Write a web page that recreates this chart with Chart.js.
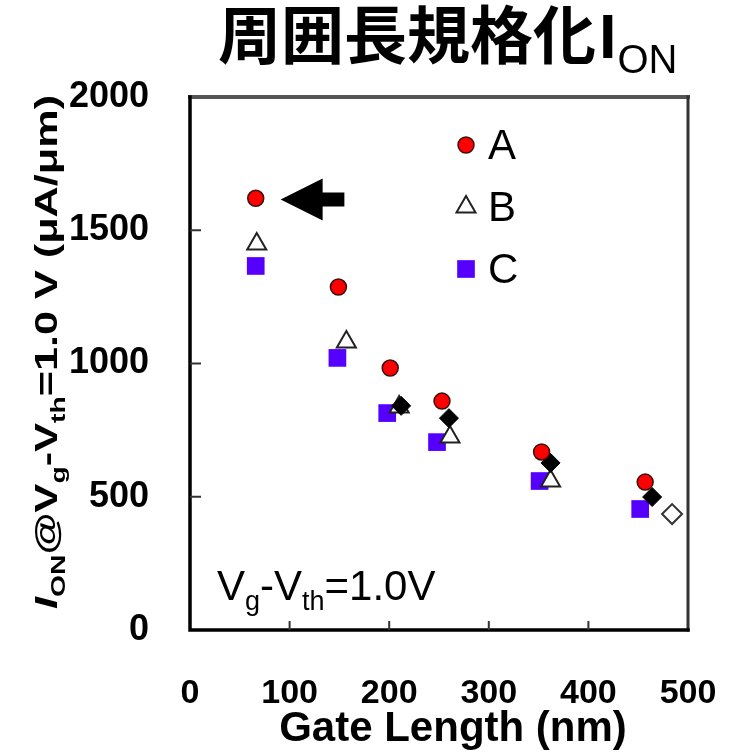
<!DOCTYPE html>
<html>
<head>
<meta charset="utf-8">
<script src="https://cdn.jsdelivr.net/npm/chart.js@4.4.0/dist/chart.umd.min.js"></script>
<style>
  html, body { margin: 0; padding: 0; background: #fff; }
  #wrap { width: 733px; height: 753px; }
</style>
</head>
<body>
<div id="wrap"><canvas id="chart" width="733" height="753"></canvas></div>
<script>
// gate length (nm) / I_ON (uA/um)
const gateLengthA = [66, 149, 201, 253, 353, 457];
const ionA = [1620, 1287, 983, 859, 668, 555];
const gateLengthB = [67, 157, 210, 261, 362];
const ionB = [1448, 1081, 837, 724, 559];
const gateLengthC = [66, 148, 198, 248, 351, 452];
const ionC = [1366, 1021, 814, 705, 559, 454];
const gateLengthRef = [212, 260, 362, 464];
const ionRef = [841, 795, 627, 499];
const gateLengthRefOpen = [484];
const ionRefOpen = [435];

const xTicks = [0, 100, 200, 300, 400, 500];
const yTicks = [0, 500, 1000, 1500, 2000];
const legendNames = ["A", "B", "C"];

// arrow pointing at the first A point (data coords)
const arrowTail = [155, 1615];
const arrowTip = [91, 1615];

const FONT = '"Liberation Sans", Arial, sans-serif';
const CJK = '"Noto Sans CJK JP", "Noto Sans CJK SC", sans-serif';

function toPoints(xs, ys) {
  return xs.map((x, i) => ({ x: x, y: ys[i] }));
}

// draws a run of text pieces, some of them subscripts
function drawRuns(ctx, runs, x, y) {
  runs.forEach(r => {
    ctx.font = r.font;
    x += r.gap || 0;
    ctx.fillText(r.text, x, y + (r.dy || 0));
    x += ctx.measureText(r.text).width;
  });
  return x;
}

function runsWidth(ctx, runs) {
  let w = 0;
  runs.forEach(r => {
    ctx.font = r.font;
    w += ctx.measureText(r.text).width + (r.gap || 0);
  });
  return w;
}

const decorPlugin = {
  id: "decor",
  beforeDraw(chart) {
    const ctx = chart.ctx;
    ctx.save();
    ctx.fillStyle = "#fff";
    ctx.fillRect(0, 0, chart.width, chart.height);
    ctx.restore();
  },
  afterDraw(chart) {
    const ctx = chart.ctx;
    const area = chart.chartArea;
    const xs = chart.scales.x;
    const ys = chart.scales.y;

    ctx.save();

    // frame
    ctx.lineCap = "square";
    ctx.strokeStyle = "#555";
    ctx.lineWidth = 4;
    ctx.beginPath();
    ctx.moveTo(area.left, area.top);
    ctx.lineTo(area.right, area.top);
    ctx.stroke();
    ctx.strokeStyle = "#333";
    ctx.lineWidth = 3;
    ctx.beginPath();
    ctx.moveTo(area.right, area.top);
    ctx.lineTo(area.right, area.bottom);
    ctx.stroke();
    ctx.strokeStyle = "#000";
    ctx.lineWidth = 3.5;
    ctx.beginPath();
    ctx.moveTo(area.left, area.top);
    ctx.lineTo(area.left, area.bottom);
    ctx.lineTo(area.right, area.bottom);
    ctx.stroke();

    // inward ticks
    ctx.strokeStyle = "#333";
    ctx.lineWidth = 2;
    ctx.lineCap = "butt";
    yTicks.slice(1, -1).forEach(v => {
      const py = ys.getPixelForValue(v);
      ctx.beginPath();
      ctx.moveTo(area.left, py);
      ctx.lineTo(area.left + 11, py);
      ctx.stroke();
    });
    xTicks.slice(1, -1).forEach(v => {
      const px = xs.getPixelForValue(v);
      ctx.beginPath();
      ctx.moveTo(px, area.bottom);
      ctx.lineTo(px, area.bottom - 9);
      ctx.stroke();
    });

    // arrow
    const tipX = xs.getPixelForValue(arrowTip[0]);
    const tailX = xs.getPixelForValue(arrowTail[0]);
    const ay = ys.getPixelForValue(arrowTip[1]);
    const headX = tipX + 42;
    ctx.fillStyle = "#000";
    ctx.beginPath();
    ctx.moveTo(tipX, ay);
    ctx.lineTo(headX, ay - 21);
    ctx.lineTo(headX, ay - 7);
    ctx.lineTo(tailX, ay - 7);
    ctx.lineTo(tailX, ay + 7);
    ctx.lineTo(headX, ay + 7);
    ctx.lineTo(headX, ay + 21);
    ctx.closePath();
    ctx.fill();

    // legend
    ctx.textBaseline = "middle";
    ctx.textAlign = "left";
    legendNames.forEach((name, i) => {
      const ds = chart.data.datasets[i];
      const ly = 145 + i * 62;
      ctx.fillStyle = ds.backgroundColor;
      ctx.strokeStyle = ds.borderColor;
      ctx.lineWidth = ds.borderWidth;
      Chart.helpers.drawPoint(ctx, {
        pointStyle: ds.pointStyle,
        radius: ds.pointRadius,
        borderWidth: ds.borderWidth,
        rotation: 0
      }, 466, ly);
      ctx.fillStyle = "#000";
      ctx.font = "42px " + FONT;
      ctx.fillText(name, 488, ly + 2);
    });

    // condition note
    ctx.textBaseline = "alphabetic";
    ctx.fillStyle = "#000";
    drawRuns(ctx, [
      { text: "V", font: "42px " + FONT },
      { text: "g", font: "27px " + FONT, dy: 10 },
      { text: "-V", font: "42px " + FONT },
      { text: "th", font: "27px " + FONT, dy: 10 },
      { text: "=1.0V", font: "42px " + FONT }
    ], area.left + 27, area.bottom - 30);

    // title
    drawRuns(ctx, [
      { text: "周囲長規格化", font: "bold 63px " + CJK },
      { text: "I", font: "bold 63px " + FONT, gap: 3 },
      { text: "ON", font: "40px " + FONT, dy: 15, gap: 1 }
    ], 218, 58);

    // x axis title
    ctx.textAlign = "center";
    ctx.font = "bold 42px " + FONT;
    ctx.fillText("Gate Length (nm)", 453, 741);

    // y axis title, rotated and stretched along its length
    const yRuns = [
      { text: "I", font: "italic bold 32px " + FONT },
      { text: "ON", font: "bold 21px " + FONT, dy: 8 },
      { text: "@V", font: "bold 32px " + FONT },
      { text: "g", font: "bold 21px " + FONT, dy: 8 },
      { text: "-V", font: "bold 32px " + FONT },
      { text: "th", font: "bold 21px " + FONT, dy: 8 },
      { text: "=1.0 V (μA/μm)", font: "bold 32px " + FONT }
    ];
    const stretch = 1.35;
    const len = runsWidth(ctx, yRuns) * stretch;
    ctx.translate(57, 352);
    ctx.rotate(-Math.PI / 2);
    ctx.scale(stretch, 1);
    ctx.textAlign = "left";
    drawRuns(ctx, yRuns, -len / 2 / stretch, 0);

    ctx.restore();
  }
};

new Chart(document.getElementById("chart"), {
  type: "scatter",
  data: {
    datasets: [
      {
        label: "A",
        data: toPoints(gateLengthA, ionA),
        pointStyle: "circle",
        pointRadius: 8,
        backgroundColor: "#ff0000",
        borderColor: "#3a1010",
        borderWidth: 1.5,
        order: 0
      },
      {
        label: "B",
        data: toPoints(gateLengthB, ionB),
        pointStyle: "triangle",
        pointRadius: 11,
        backgroundColor: "#ffffff",
        borderColor: "#222",
        borderWidth: 2,
        order: 2
      },
      {
        label: "C",
        data: toPoints(gateLengthC, ionC),
        pointStyle: "rect",
        pointRadius: 12.5,
        backgroundColor: "#5500ff",
        borderColor: "#5500ff",
        borderWidth: 0,
        order: 3
      },
      {
        label: "ref",
        data: toPoints(gateLengthRef, ionRef),
        pointStyle: "rectRot",
        pointRadius: 9.5,
        backgroundColor: "#000",
        borderColor: "#000",
        borderWidth: 1,
        order: 1
      },
      {
        label: "ref open",
        data: toPoints(gateLengthRefOpen, ionRefOpen),
        pointStyle: "rectRot",
        pointRadius: 10,
        backgroundColor: "#fff",
        borderColor: "#333",
        borderWidth: 2,
        order: 1
      }
    ]
  },
  options: {
    responsive: false,
    animation: false,
    layout: { padding: { left: 0, right: 45, top: 97, bottom: 0 } },
    plugins: {
      legend: { display: false },
      tooltip: { enabled: false }
    },
    scales: {
      x: {
        type: "linear",
        min: 0,
        max: 500,
        afterBuildTicks: s => { s.ticks = xTicks.map(v => ({ value: v })); },
        afterFit: s => {
          s.height = 123;
          s.paddingLeft = 0;
          s.paddingRight = 0;
        },
        grid: { display: false },
        border: { display: false },
        ticks: {
          color: "#000",
          padding: 35,
          maxRotation: 0,
          callback: v => String(v),
          font: { family: FONT, size: 34, weight: "bold" }
        }
      },
      y: {
        min: 0,
        max: 2000,
        afterBuildTicks: s => { s.ticks = yTicks.map(v => ({ value: v })); },
        afterFit: s => {
          s.width = 190;
          s.paddingTop = 0;
          s.paddingBottom = 0;
        },
        grid: { display: false },
        border: { display: false },
        ticks: {
          color: "#000",
          padding: 33,
          callback: v => String(v),
          font: { family: FONT, size: 36, weight: "bold" }
        }
      }
    }
  },
  plugins: [decorPlugin]
});
</script>
</body>
</html>
